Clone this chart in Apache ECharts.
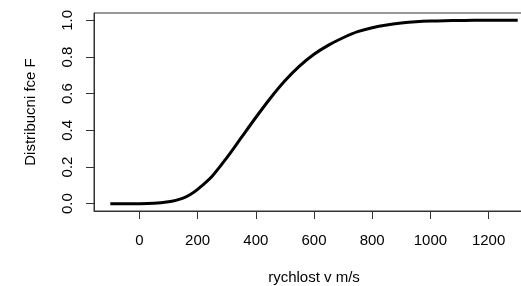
<!DOCTYPE html>
<html lang="en">
<head>
    <meta charset="UTF-8">
    <title>distribucni funkce</title>
    <script src="https://cdn.jsdelivr.net/npm/echarts@6/dist/echarts.min.js"></script>
    <style>
        body { margin: 0; background: #fff; }
    </style>
</head>
<body>
<div id="main" style="width:521px;height:286px"></div>
<script>
    // rychlost v m/s a odpovidajici hodnoty F
    var speeds = [-100, -50, 0, 50, 100, 125, 150, 175, 200, 250, 300, 350, 400, 450, 500, 550, 600,
        650, 700, 750, 800, 850, 900, 950, 1000, 1050, 1100, 1150, 1200, 1250, 1300];
    var cdf = [0, 0, 0, 0.002, 0.01, 0.018, 0.03, 0.05, 0.078, 0.15, 0.25, 0.36, 0.47, 0.575, 0.67, 0.75, 0.815,
        0.865, 0.905, 0.938, 0.96, 0.975, 0.985, 0.992, 0.996, 0.998, 0.999, 1, 1, 1, 1];
    var xTicks = [0, 200, 400, 600, 800, 1000, 1200];
    var yTicks = [0, 0.2, 0.4, 0.6, 0.8, 1.0];

    var points = speeds.map(function (s, i) { return [s, cdf[i]]; });
    var font = 'Liberation Sans, Arial, Helvetica, sans-serif';

    var myChart = echarts.init(document.getElementById('main'));
    myChart.setOption({
        animation: false,
        grid: {
            left: 94, top: 13, width: 440, height: 198,
            outerBoundsMode: 'none',
            show: true, borderColor: '#333', borderWidth: 1, backgroundColor: 'transparent'
        },
        xAxis: {
            type: 'value',
            min: -156, max: 1356,
            name: 'rychlost v m/s',
            nameLocation: 'middle',
            nameGap: 59,
            nameTextStyle: { color: '#000', fontSize: 15, fontFamily: font },
            axisLine: { show: true, onZero: false, lineStyle: { color: '#333', width: 1 } },
            axisTick: { show: true, length: 8, customValues: xTicks, lineStyle: { color: '#333' } },
            axisLabel: {
                customValues: xTicks, color: '#000', fontSize: 15, fontFamily: font, margin: 22,
                formatter: function (v) { return String(v); }
            },
            splitLine: { show: false }
        },
        yAxis: {
            type: 'value',
            min: -0.04, max: 1.04,
            name: 'Distribucni fce F',
            nameLocation: 'middle',
            nameGap: 56,
            nameTextStyle: { color: '#000', fontSize: 15, fontFamily: font },
            axisLine: { show: true, onZero: false, lineStyle: { color: '#333', width: 1 } },
            axisTick: { show: true, length: 8, customValues: yTicks, lineStyle: { color: '#333' } },
            axisLabel: {
                customValues: yTicks, rotate: 90, color: '#000', fontSize: 15, fontFamily: font, margin: 19,
                formatter: function (v) { return v.toFixed(1); }
            },
            splitLine: { show: false }
        },
        series: [{
            type: 'line',
            data: points,
            showSymbol: false,
            smooth: 0.3,
            lineStyle: { color: '#000', width: 3 }
        }]
    });
</script>
</body>
</html>
